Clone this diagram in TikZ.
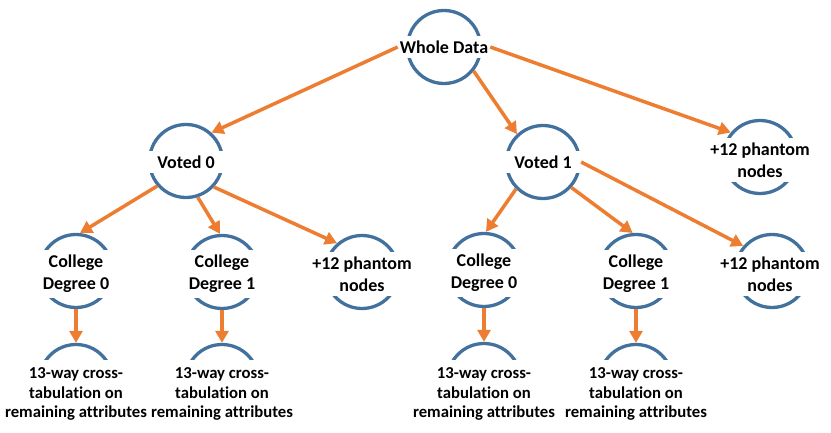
\documentclass[tikz,border=0pt]{standalone}
\usepackage{fontspec}
\setmainfont{Carlito}[Ligatures=CommonOff]
\usetikzlibrary{arrows.meta}
\definecolor{cblue}{RGB}{65,113,156}
\definecolor{corange}{RGB}{237,125,49}
\begin{document}
\begin{tikzpicture}[x=1pt,y=-1pt,
  ring/.style={circle,draw=cblue,line width=3.3pt,minimum size=73pt,inner sep=0pt},
  lab/.style={fill=white,align=center,font=\fontsize{18}{22}\selectfont\bfseries,inner xsep=2pt,inner ysep=5pt,minimum width=84pt},
  small/.style={fill=white,align=center,font=\fontsize{16.7}{19.5}\selectfont\bfseries,inner xsep=0pt,inner ysep=8pt},
  arr/.style={draw=corange,line width=3.5pt,-{Triangle[length=12pt,width=13pt]}}]
\useasboundingbox (0,0) rectangle (831,433);
% rings
\node[ring] (wdc) at (444,47) {};
\node[ring] (v0c) at (186,161) {};
\node[ring] (v1c) at (543,162) {};
\node[ring] (p0c) at (760,157) {};
\node[ring] (a0c) at (76,271) {};
\node[ring] (a1c) at (222,272) {};
\node[ring] (a2c) at (362,272) {};
\node[ring] (b0c) at (484,270) {};
\node[ring] (b1c) at (636,271) {};
\node[ring] (b2c) at (772,271) {};
\node[ring] (c0c) at (76,381) {};
\node[ring] (c1c) at (222,381) {};
\node[ring] (c2c) at (484,380) {};
\node[ring] (c3c) at (636,381) {};
% labels
\node[lab] (wd) at (444,47) {Whole Data};
\node[lab] (v0) at (186,162) {Voted 0};
\node[lab] (v1) at (543,162) {Voted 1};
\node[lab] (p0) at (760,160) {+12 phantom\\nodes};
\node[lab] (a0) at (76,274) {College\\Degree 0};
\node[lab] (a1) at (222,274) {College\\Degree 1};
\node[lab] (a2) at (362,274) {+12 phantom\\nodes};
\node[lab] (b0) at (484,273) {College\\Degree 0};
\node[lab] (b1) at (636,274) {College\\Degree 1};
\node[lab] (b2) at (770,274) {+12 phantom\\nodes};
\node[small] (c0) at (76,394) {13-way cross-\\tabulation on\\remaining attributes};
\node[small] (c1) at (222,394) {13-way cross-\\tabulation on\\remaining attributes};
\node[small] (c2) at (484,394) {13-way cross-\\tabulation on\\remaining attributes};
\node[small] (c3) at (636,394) {13-way cross-\\tabulation on\\remaining attributes};
% arrows
\draw[arr] (wd.west) -- (v0c.48);
\draw[arr] (wdc.-39) -- (v1c.133);
\draw[arr] (wd.east) -- (p0c.140);
\draw[arr] (v0c.221) -- (a0c.84);
\draw[arr] (v0c.-72) -- (a1c.93);
\draw[arr] (v0c.-43) -- (a2c.131);
\draw[arr] (v1c.225) -- (b0c.87);
\draw[arr] (v1c.-42) -- (b1c.95);
\draw[arr] (v1c.0) -- (b2c.139);
\draw[arr] (a0c.south) -- (c0c.north);
\draw[arr] (a1c.south) -- (c1c.north);
\draw[arr] (b0c.south) -- (c2c.north);
\draw[arr] (b1c.south) -- (c3c.north);
\end{tikzpicture}
\end{document}
